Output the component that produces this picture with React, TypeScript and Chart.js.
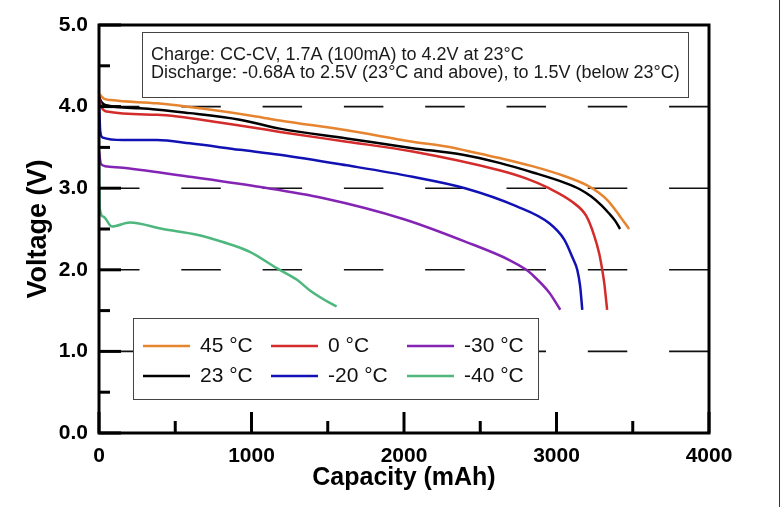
import React, { useEffect, useRef } from "react";
import { Chart, registerables } from "chart.js";

Chart.register(...registerables);

// ---- data ----
const seriesLabels = ["45 °C", "23 °C", "0 °C", "-20 °C", "-30 °C", "-40 °C"];
const seriesColors = ["#E6842F", "#000000", "#D42B2B", "#1212B4", "#8424B4", "#4DB77E"];

const cap45 = [0, 30, 80, 380, 700, 1030, 1185, 1624, 2056, 2278, 2409, 2625, 2841, 3050, 3195, 3280, 3335, 3411, 3476];
const volt45 = [4.16, 4.1, 4.08, 4.04, 3.97, 3.88, 3.83, 3.71, 3.57, 3.51, 3.46, 3.37, 3.27, 3.15, 3.04, 2.94, 2.85, 2.67, 2.5];

const cap23 = [0, 15, 40, 268, 596, 923, 1185, 1624, 2056, 2386, 2625, 2850, 3064, 3150, 3226, 3295, 3345, 3385, 3417];
const volt23 = [4.12, 4.06, 4.02, 3.98, 3.92, 3.84, 3.73, 3.61, 3.49, 3.41, 3.31, 3.19, 3.06, 2.99, 2.9, 2.79, 2.69, 2.6, 2.5];

const cap0 = [0, 15, 50, 380, 812, 1220, 1624, 2056, 2625, 2800, 2950, 3105, 3195, 3247, 3280, 3300, 3313, 3332];
const volt0 = [4.12, 4.0, 3.94, 3.9, 3.8, 3.68, 3.57, 3.45, 3.22, 3.12, 3.0, 2.83, 2.66, 2.42, 2.2, 2.0, 1.84, 1.51];

const capM20 = [0, 8, 25, 157, 380, 596, 923, 1185, 1624, 2056, 2400, 2736, 2953, 3051, 3105, 3136, 3155, 3169];
const voltM20 = [4.08, 3.7, 3.62, 3.59, 3.59, 3.55, 3.47, 3.41, 3.28, 3.14, 3.0, 2.78, 2.57, 2.37, 2.15, 2.0, 1.8, 1.51];

const capM30 = [0, 12, 40, 157, 596, 1034, 1467, 2000, 2409, 2691, 2802, 2841, 2953, 3025];
const voltM30 = [3.45, 3.3, 3.27, 3.25, 3.14, 3.02, 2.88, 2.62, 2.34, 2.12, 2.0, 1.94, 1.72, 1.51];

const capM40 = [0, 5, 30, 85, 203, 419, 642, 812, 989, 1165, 1296, 1381, 1480, 1558];
const voltM40 = [3.32, 2.75, 2.65, 2.53, 2.58, 2.5, 2.43, 2.34, 2.22, 2.02, 1.88, 1.75, 1.63, 1.55];

const seriesCaps = [cap45, cap23, cap0, capM20, capM30, capM40];
const seriesVolts = [volt45, volt23, volt0, voltM20, voltM30, voltM40];

const xTicks = [0, 1000, 2000, 3000, 4000];
const yTicks = [0, 1, 2, 3, 4, 5];
const gridVolts = [1, 2, 3, 4];
const noteLines = [
  "Charge: CC-CV, 1.7A (100mA) to 4.2V at 23°C",
  "Discharge: -0.68A to 2.5V (23°C and above), to 1.5V (below 23°C)",
];
// legend layout: columns of series indices
const legendColumns = [[0, 1], [2, 3], [4, 5]];

const FONT = "'Liberation Sans', Arial, Helvetica, sans-serif";

const customDraw = {
  id: "customDraw",
  beforeDatasetsDraw(chart: any) {
    const { ctx, chartArea: a, scales } = chart;
    const y = scales.y;
    ctx.save();
    ctx.strokeStyle = "#111";
    ctx.lineWidth = 1.6;
    ctx.setLineDash([39.5, 41.8]);
    for (const v of gridVolts) {
      const py = y.getPixelForValue(v);
      ctx.beginPath();
      ctx.moveTo(a.left + 1, py);
      ctx.lineTo(a.right, py);
      ctx.stroke();
    }
    ctx.restore();
  },
  afterDatasetsDraw(chart: any) {
    const { ctx, chartArea: a, scales } = chart;
    const x = scales.x;
    const y = scales.y;
    ctx.save();
    ctx.setLineDash([]);
    ctx.strokeStyle = "#000";
    ctx.lineWidth = 3;
    // ticks (inward)
    for (let v = 0; v <= 5.0001; v += 0.5) {
      const py = y.getPixelForValue(v);
      const len = Math.abs(v - Math.round(v)) < 1e-6 ? 22 : 11;
      ctx.beginPath();
      ctx.moveTo(a.left, py);
      ctx.lineTo(a.left + len, py);
      ctx.stroke();
    }
    for (let c = 0; c <= 4000; c += 500) {
      const px = x.getPixelForValue(c);
      const len = c % 1000 === 0 ? 21 : 12;
      ctx.beginPath();
      ctx.moveTo(px, a.bottom);
      ctx.lineTo(px, a.bottom - len);
      ctx.stroke();
    }
    // frame
    ctx.lineWidth = 3;
    ctx.strokeRect(a.left, a.top, a.right - a.left, a.bottom - a.top);

    // note box
    const nx = a.left + 43.5;
    const ny = a.top + 7.5;
    ctx.fillStyle = "#fff";
    ctx.fillRect(nx, ny, 546, 65);
    ctx.lineWidth = 1;
    ctx.strokeStyle = "#444";
    ctx.strokeRect(nx, ny, 546, 65);
    ctx.fillStyle = "#1a1a1a";
    ctx.font = `18px ${FONT}`;
    ctx.textAlign = "left";
    ctx.textBaseline = "alphabetic";
    ctx.fillText(noteLines[0], nx + 8.5, ny + 27);
    ctx.fillText(noteLines[1], nx + 8.5, ny + 45.5);

    // legend box
    const lx = a.left + 34.5;
    const ly = a.top + 293.5;
    ctx.fillStyle = "#fff";
    ctx.fillRect(lx, ly, 405, 81);
    ctx.strokeStyle = "#444";
    ctx.lineWidth = 1;
    ctx.strokeRect(lx, ly, 405, 81);
    const colX = [lx + 9.5, lx + 137.5, lx + 273.5];
    const rowY = [ly + 27.5, ly + 57.5];
    ctx.font = `21px ${FONT}`;
    ctx.textBaseline = "middle";
    legendColumns.forEach((col, ci) => {
      col.forEach((si, ri) => {
        const sx = colX[ci];
        const sy = rowY[ri];
        ctx.strokeStyle = seriesColors[si];
        ctx.lineWidth = 2.6;
        ctx.beginPath();
        ctx.moveTo(sx, sy);
        ctx.lineTo(sx + 47, sy);
        ctx.stroke();
        ctx.fillStyle = "#111";
        ctx.fillText(seriesLabels[si], sx + 57, sy);
      });
    });
    ctx.restore();
  },
  afterDraw(chart: any) {
    const { ctx } = chart;
    ctx.save();
    ctx.strokeStyle = "#333";
    ctx.lineWidth = 1;
    ctx.beginPath();
    ctx.moveTo(779.5, 0);
    ctx.lineTo(779.5, chart.height);
    ctx.stroke();
    ctx.restore();
  },
};

export default function App() {
  const ref = useRef<HTMLCanvasElement | null>(null);
  useEffect(() => {
    if (!ref.current) return;
    Chart.defaults.font.family = FONT;
    const datasets = seriesLabels.map((label, i) => ({
      label,
      data: seriesCaps[i].map((c, j) => ({ x: c, y: seriesVolts[i][j] })),
      borderColor: seriesColors[i],
      backgroundColor: seriesColors[i],
      borderWidth: 2.5,
      pointRadius: 0,
      fill: false,
      cubicInterpolationMode: "monotone" as const,
    })).reverse();
    const chart = new Chart(ref.current, {
      type: "line",
      data: { datasets },
      options: {
        animation: false,
        responsive: false,
        events: [],
        layout: { padding: { top: 25, right: 75, bottom: 0, left: 0 } },
        plugins: { legend: { display: false }, tooltip: { enabled: false } },
        scales: {
          x: {
            type: "linear",
            min: 0,
            max: 4000,
            afterFit(scale: any) {
              scale.height = 74;
            },
            afterBuildTicks(scale: any) {
              scale.ticks = xTicks.map((v) => ({ value: v }));
            },
            grid: { display: false, drawTicks: false },
            border: { display: false },
            ticks: {
              padding: 11,
              color: "#000",
              font: { size: 21, weight: "bold" },
              maxRotation: 0,
              callback: (v: any) => String(v),
            },
            title: {
              display: true,
              text: "Capacity (mAh)",
              color: "#000",
              font: { size: 25, weight: "bold" },
              padding: { top: 0, bottom: 14 },
            },
          },
          y: {
            type: "linear",
            min: 0,
            max: 5,
            afterFit(scale: any) {
              scale.width = 99;
            },
            afterBuildTicks(scale: any) {
              scale.ticks = yTicks.map((v) => ({ value: v }));
            },
            grid: { display: false, drawTicks: false },
            border: { display: false },
            ticks: {
              padding: 11,
              color: "#000",
              font: { size: 21, weight: "bold" },
              callback: (v: any) => Number(v).toFixed(1),
            },
            title: {
              display: true,
              text: "Voltage (V)",
              color: "#000",
              font: { size: 27, weight: "bold" },
              padding: { top: 22, bottom: 0 },
            },
          },
        },
      },
      plugins: [customDraw],
    });
    return () => chart.destroy();
  }, []);
  return (
    <div style={{ position: "absolute", left: 0, top: 0, width: 784, height: 507, background: "#fff" }}>
      <canvas ref={ref} width={784} height={507} style={{ display: "block", width: 784, height: 507 }} />
    </div>
  );
}
